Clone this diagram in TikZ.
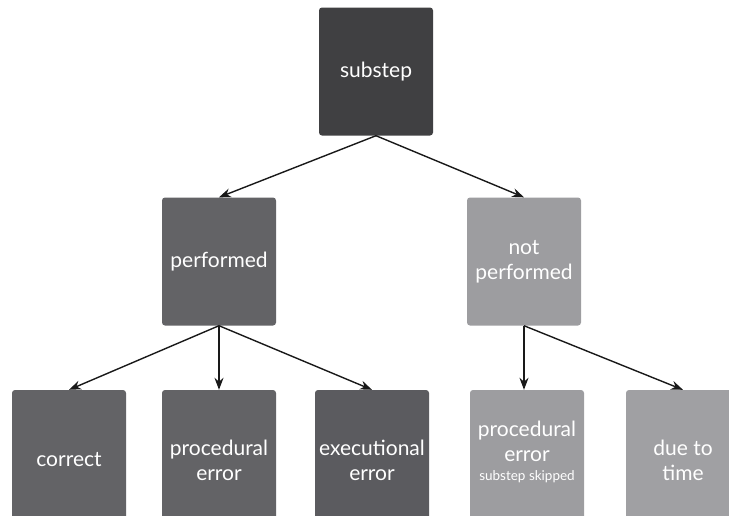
\documentclass[tikz,border=0pt]{standalone}
\usepackage{fontspec}
\setmainfont{Lato}
\usetikzlibrary{arrows.meta}
\definecolor{boxdark}{HTML}{404042}
\definecolor{boxmid}{HTML}{636366}
\definecolor{boxmiddark}{HTML}{5B5B5F}
\definecolor{boxlight}{HTML}{9D9DA0}
\begin{document}
\begin{tikzpicture}[x=1pt,y=-1pt,
  box/.style={rectangle, rounded corners=3pt, minimum width=114pt, minimum height=128pt,
    text=white, align=center, font=\fontsize{21}{25}\selectfont, inner sep=0pt},
  lowbox/.style={box, minimum height=140pt},
  link/.style={draw=black!90, line width=1.4pt, -{Stealth[length=12pt,width=9pt]}}
]
\useasboundingbox (0,0) rectangle (729,515);
\clip (0,0) rectangle (729,515);

% top level
\node[box, fill=boxdark] (sub) at (376,71.5) {substep};

% second level
\node[box, fill=boxmid] (perf) at (219,261.5) {performed};
\node[box, fill=boxlight] (notperf) at (524,261.5) {not\\performed};

% third level
\node[lowbox, fill=boxmid] (corr) at (69,460) {correct};
\node[lowbox, fill=boxmid] (proc) at (219,460) {procedural\\error};
\node[lowbox, fill=boxmiddark] (exec) at (372,460) {executional\\error};
\node[lowbox, fill=boxlight] (skip) at (527,460) {};
\node[text=white, align=center, font=\fontsize{21}{25}\selectfont] (skiptext) at (527,452)
  {procedural\\error\\[-6pt]{\fontsize{13.5}{15}\selectfont substep skipped}};
\node[lowbox, fill=boxlight!97!white] (time) at (683,460) {due to\\time};

% connectors
\draw[link] (sub.south) -- (perf.north);
\draw[link] (sub.south) -- (notperf.north);
\draw[link] (perf.south) -- (corr.north);
\draw[link] (perf.south) -- (proc.north);
\draw[link] (perf.south) -- (exec.north);
\draw[link] (notperf.south) -- (notperf.south |- skip.north);
\draw[link] (notperf.south) -- (time.north);
\end{tikzpicture}
\end{document}
